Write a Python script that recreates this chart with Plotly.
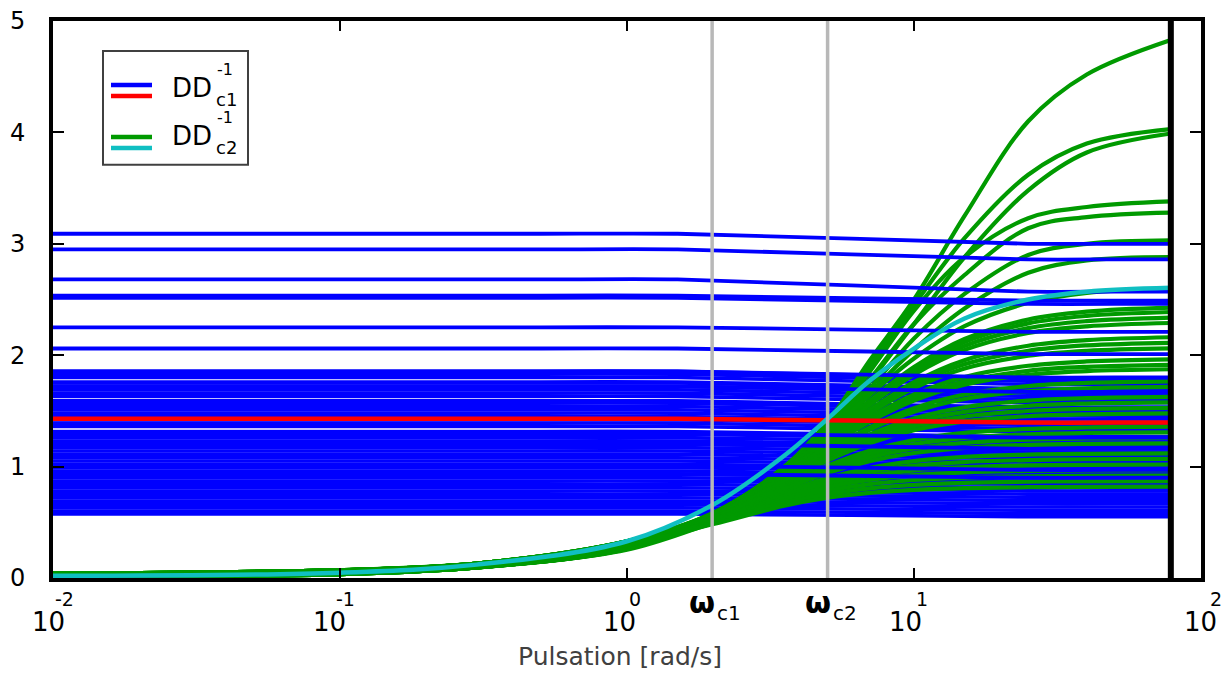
import numpy as np
import plotly.graph_objects as go

# ------------------------------------------------------------------ data
# frequency grid (rad/s) for the DD_c1^-1 curves (flat, then slight drift)
W_BLUE = [0.01, 0.5, 1.5, 25.0, 50.0, 78.5]

# dense bundle of DD_c1^-1 curves: level at low frequency / level at the end
BLUE_BAND_LO = [0.575, 0.600, 0.630, 0.660, 0.690, 0.720, 0.750, 0.780, 0.810, 0.840,
                0.870, 0.900, 0.930, 0.960, 0.990, 1.020, 1.050, 1.080, 1.110, 1.140,
                1.170, 1.200, 1.230, 1.260, 1.290, 1.315, 1.360, 1.390, 1.420, 1.450,
                1.480, 1.510, 1.540, 1.570, 1.590, 1.630, 1.660, 1.690, 1.720, 1.750,
                1.760, 1.800, 1.830, 1.855]
BLUE_BAND_HI = [0.550, 0.579, 0.608, 0.637, 0.666, 0.695, 0.724, 0.753, 0.782, 0.811,
                0.840, 0.869, 0.897, 0.926, 0.955, 0.984, 1.013, 1.042, 1.071, 1.100,
                1.129, 1.158, 1.187, 1.216, 1.245, 1.269, 1.312, 1.341, 1.370, 1.399,
                1.428, 1.457, 1.486, 1.515, 1.534, 1.573, 1.602, 1.631, 1.660, 1.689,
                1.698, 1.737, 1.766, 1.790]

# DD_c1^-1 curves that are visible on top of the DD_c2^-1 fan
BLUE_FRONT_LO = [3.09, 2.95, 2.68, 2.535, 2.515, 2.25, 2.06, 1.855, 1.72, 1.30, 1.205, 1.01, 0.935]
BLUE_FRONT_HI = [3.00, 2.86, 2.57, 2.490, 2.460, 2.21, 2.01, 1.800, 1.67, 1.26, 1.160, 0.97, 0.900]

# nominal DD_c1^-1 (red)
RED_LO, RED_HI = 1.43, 1.395

# frequency grid (rad/s) for the DD_c2^-1 curves
W_GREEN = [0.01, 0.1, 0.3, 1, 2, 3.5, 5, 7, 10, 15, 25, 40, 78.5]

GREEN = [
    [0.030, 0.050, 0.100, 0.29, 0.570, 0.980, 1.400, 1.950, 2.500, 3.250, 4.100, 4.520, 4.830],
    [0.030, 0.050, 0.100, 0.29, 0.580, 0.990, 1.400, 1.900, 2.450, 3.050, 3.620, 3.900, 4.030],
    [0.020, 0.045, 0.095, 0.28, 0.560, 0.960, 1.320, 1.760, 2.280, 2.880, 3.480, 3.820, 3.990],
    [0.030, 0.055, 0.110, 0.30, 0.580, 0.990, 1.370, 1.850, 2.400, 2.880, 3.230, 3.330, 3.380],
    [0.025, 0.050, 0.105, 0.29, 0.570, 0.970, 1.340, 1.780, 2.280, 2.720, 3.140, 3.240, 3.280],
    [0.020, 0.045, 0.100, 0.29, 0.570, 0.960, 1.300, 1.700, 2.150, 2.550, 2.900, 3.000, 3.030],
    [0.035, 0.060, 0.115, 0.30, 0.580, 0.970, 1.290, 1.660, 2.050, 2.420, 2.740, 2.850, 2.880],
    [0.040, 0.070, 0.130, 0.33, 0.585, 0.975, 1.300, 1.640, 1.970, 2.260, 2.470, 2.560, 2.600],
    [0.025, 0.050, 0.110, 0.30, 0.583, 0.964, 1.278, 1.591, 1.893, 2.145, 2.320, 2.391, 2.427],
    [0.010, 0.035, 0.095, 0.27, 0.582, 0.962, 1.272, 1.580, 1.874, 2.118, 2.286, 2.353, 2.388],
    [0.040, 0.070, 0.130, 0.33, 0.581, 0.959, 1.264, 1.566, 1.850, 2.083, 2.243, 2.306, 2.338],
    [0.025, 0.050, 0.110, 0.30, 0.581, 0.955, 1.256, 1.551, 1.825, 2.048, 2.199, 2.259, 2.289],
    [0.010, 0.035, 0.095, 0.27, 0.578, 0.945, 1.234, 1.509, 1.758, 1.955, 2.085, 2.135, 2.161],
    [0.040, 0.070, 0.130, 0.33, 0.577, 0.941, 1.224, 1.492, 1.731, 1.918, 2.040, 2.088, 2.111],
    [0.025, 0.050, 0.110, 0.30, 0.576, 0.936, 1.215, 1.474, 1.704, 1.881, 1.995, 2.040, 2.062],
    [0.010, 0.035, 0.095, 0.27, 0.574, 0.927, 1.193, 1.437, 1.647, 1.805, 1.905, 1.944, 1.963],
    [0.040, 0.070, 0.130, 0.33, 0.573, 0.921, 1.182, 1.417, 1.617, 1.766, 1.860, 1.896, 1.914],
    [0.025, 0.050, 0.110, 0.30, 0.572, 0.917, 1.173, 1.401, 1.593, 1.735, 1.824, 1.857, 1.874],
    [0.010, 0.035, 0.095, 0.27, 0.568, 0.903, 1.144, 1.353, 1.524, 1.647, 1.723, 1.751, 1.765],
    [0.040, 0.070, 0.130, 0.33, 0.567, 0.896, 1.131, 1.331, 1.492, 1.607, 1.676, 1.703, 1.715],
    [0.025, 0.050, 0.110, 0.30, 0.563, 0.883, 1.104, 1.288, 1.432, 1.533, 1.593, 1.615, 1.626],
    [0.010, 0.035, 0.095, 0.27, 0.561, 0.874, 1.088, 1.263, 1.398, 1.491, 1.546, 1.566, 1.576],
    [0.040, 0.070, 0.130, 0.32, 0.559, 0.866, 1.071, 1.237, 1.363, 1.449, 1.499, 1.518, 1.527],
    [0.025, 0.050, 0.110, 0.29, 0.556, 0.856, 1.054, 1.210, 1.327, 1.406, 1.452, 1.469, 1.477],
    [0.010, 0.035, 0.095, 0.27, 0.549, 0.831, 1.008, 1.142, 1.239, 1.302, 1.338, 1.351, 1.358],
    [0.040, 0.070, 0.130, 0.32, 0.545, 0.819, 0.987, 1.111, 1.201, 1.258, 1.290, 1.302, 1.308],
    [0.025, 0.050, 0.110, 0.29, 0.542, 0.807, 0.965, 1.080, 1.162, 1.213, 1.243, 1.253, 1.258],
    [0.010, 0.035, 0.095, 0.26, 0.538, 0.793, 0.942, 1.048, 1.122, 1.168, 1.195, 1.204, 1.208],
    [0.040, 0.070, 0.130, 0.32, 0.529, 0.766, 0.897, 0.988, 1.049, 1.087, 1.108, 1.115, 1.119],
    [0.025, 0.050, 0.110, 0.29, 0.523, 0.749, 0.871, 0.953, 1.008, 1.041, 1.059, 1.066, 1.069],
    [0.010, 0.035, 0.095, 0.26, 0.517, 0.732, 0.843, 0.917, 0.966, 0.995, 1.011, 1.016, 1.019],
    [0.040, 0.070, 0.130, 0.31, 0.510, 0.712, 0.815, 0.881, 0.923, 0.948, 0.962, 0.967, 0.969],
    [0.025, 0.050, 0.110, 0.285, 0.503, 0.692, 0.784, 0.843, 0.880, 0.901, 0.913, 0.917, 0.919],
    [0.010, 0.035, 0.095, 0.255, 0.494, 0.670, 0.753, 0.804, 0.836, 0.854, 0.864, 0.868, 0.869],
    [0.040, 0.070, 0.130, 0.30, 0.484, 0.646, 0.720, 0.764, 0.791, 0.807, 0.815, 0.818, 0.820],
]

# nominal DD_c2^-1 (cyan)
CYAN = [0.020, 0.048, 0.120, 0.33, 0.660, 1.090, 1.430, 1.770, 2.060, 2.330, 2.500, 2.570, 2.605]

# crossover pulsations and last frequency of the data (rad/s)
W_C1, W_C2, W_END = 1.98, 5.0, 78.5

X_TICKS = [0.01, 0.1, 1, 10, 100]
X_EXPONENTS = ["-2", "-1", "0", "1", "2"]
Y_TICKS = [0, 1, 2, 3, 4, 5]
LEGEND_LABELS = [("DD", "-1", "c1"), ("DD", "-1", "c2")]
X_TITLE = "Pulsation [rad/s]"

# ------------------------------------------------------------------ style
C_BLUE = "#0000ff"
C_RED = "#ff0000"
C_GREEN = "#009a00"
C_CYAN = "#10bfc2"
C_GRAY = "#b8b8b8"
FONT = "DejaVu Sans, Liberation Sans, Arial, sans-serif"

fig = go.Figure()


def add_line(x, y, color, width, smoothing=1.0):
    fig.add_trace(go.Scatter(
        x=x, y=y, mode="lines",
        line=dict(color=color, width=width, shape="spline", smoothing=smoothing),
        hoverinfo="skip", showlegend=False))


def blue_levels(lo, hi):
    return [lo, lo, lo, hi, hi, hi]


for lo, hi in zip(BLUE_BAND_LO, BLUE_BAND_HI):
    add_line(W_BLUE, blue_levels(lo, hi), C_BLUE, 3.6, 0.6)
for g in GREEN:
    add_line(W_GREEN, g, C_GREEN, 4.2)
for lo, hi in zip(BLUE_FRONT_LO, BLUE_FRONT_HI):
    add_line(W_BLUE, blue_levels(lo, hi), C_BLUE, 3.8, 0.6)
add_line(W_BLUE, blue_levels(RED_LO, RED_HI), C_RED, 4.5, 0.6)
add_line(W_GREEN, CYAN, C_CYAN, 4.5)

# vertical markers at the crossover pulsations and at the end of the data
for w in (W_C1, W_C2):
    fig.add_trace(go.Scatter(x=[w, w], y=[0, 5], mode="lines",
                             line=dict(color=C_GRAY, width=3.5),
                             hoverinfo="skip", showlegend=False))
fig.add_trace(go.Scatter(x=[W_END, W_END], y=[0, 5], mode="lines",
                         line=dict(color="black", width=6),
                         hoverinfo="skip", showlegend=False))

# ------------------------------------------------------------------ layout
L, R, T, B = 53, 1201, 21, 578.5   # plot area in pixels
W, H = 1230, 675


def px(x):
    return (x - L) / (R - L)


def py(y):
    return (B - y) / (B - T)


fig.update_layout(
    width=W, height=H,
    margin=dict(l=L, r=W - R, t=T, b=H - B, pad=0, autoexpand=False),
    paper_bgcolor="white", plot_bgcolor="white",
    showlegend=False,
    font=dict(family=FONT, color="black"),
)
fig.update_xaxes(type="log", range=[-2, 2], showline=True, linewidth=4,
                 linecolor="black", mirror="ticks", ticks="inside", ticklen=10,
                 tickwidth=2, tickcolor="black", tickvals=X_TICKS[1:-1],
                 showticklabels=False, showgrid=False, zeroline=False,
                 automargin=False)
fig.update_yaxes(range=[0, 5], showline=True, linewidth=4, linecolor="black",
                 mirror="ticks", ticks="inside", ticklen=11, tickwidth=2,
                 tickcolor="black", tickvals=Y_TICKS,
                 tickfont=dict(size=24, family=FONT, color="black"),
                 ticklabelstandoff=19, showgrid=False, zeroline=False,
                 automargin=False)

ann = []
# x tick labels 10^n
TEN_SHIFT = [-5, -11, -8, -8.5, -1]
for t, e, s in zip(X_TICKS, X_EXPONENTS, TEN_SHIFT):
    ann.append(dict(x=np.log10(t), xref="x", y=0, yref="paper", text="10",
                    showarrow=False, xanchor="center", yanchor="middle",
                    xshift=s, yshift=-44, font=dict(size=26, family=FONT, color="black")))
    ann.append(dict(x=np.log10(t), xref="x", y=0, yref="paper", text=e,
                    showarrow=False, xanchor="center", yanchor="middle",
                    xshift=s + 16, yshift=-21, font=dict(size=19, family=FONT, color="black")))
# omega_c labels
for w, sub in ((W_C1, "c1"), (W_C2, "c2")):
    ann.append(dict(x=np.log10(w), xref="x", y=0, yref="paper", text="<b>ω</b>",
                    showarrow=False, xanchor="right", yanchor="middle",
                    xshift=5, yshift=-24, font=dict(size=30, family=FONT, color="black")))
    ann.append(dict(x=np.log10(w), xref="x", y=0, yref="paper", text=sub,
                    showarrow=False, xanchor="left", yanchor="middle",
                    xshift=3, yshift=-35, font=dict(size=20, family=FONT, color="black")))
# axis title
ann.append(dict(x=px(620), xref="paper", y=0, yref="paper", text=X_TITLE,
                showarrow=False, xanchor="center", yanchor="middle", yshift=-78,
                font=dict(size=25, family=FONT, color="#404040")))

# legend (two stacked colour swatches per entry)
shapes = [dict(type="rect", xref="paper", yref="paper", x0=px(103), x1=px(248),
               y0=py(165), y1=py(51), line=dict(color="#404040", width=2),
               fillcolor="white", layer="above")]
for ypix, col in ((85, C_BLUE), (96, C_RED), (137, C_GREEN), (148, C_CYAN)):
    shapes.append(dict(type="line", xref="paper", yref="paper", x0=px(111), x1=px(152),
                       y0=py(ypix), y1=py(ypix), line=dict(color=col, width=4.5),
                       layer="above"))
for (main, sup, sub), center in zip(LEGEND_LABELS, (88.5, 136.5)):
    ann.append(dict(x=px(170), xref="paper", y=py(center), yref="paper", text=main,
                    showarrow=False, xanchor="left", yanchor="middle",
                    font=dict(size=26, family=FONT, color="black")))
    ann.append(dict(x=px(215), xref="paper", y=py(center - 19), yref="paper", text=sup,
                    showarrow=False, xanchor="left", yanchor="middle",
                    font=dict(size=16, family=FONT, color="black")))
    ann.append(dict(x=px(214), xref="paper", y=py(center + 11), yref="paper", text=sub,
                    showarrow=False, xanchor="left", yanchor="middle",
                    font=dict(size=18, family=FONT, color="black")))

fig.update_layout(annotations=ann, shapes=shapes)
fig.write_html(
    "out.html",
    config={"displayModeBar": False},
    post_script="document.body.style.margin='0';document.body.style.padding='0';"
                "document.body.style.overflow='hidden';",
)
